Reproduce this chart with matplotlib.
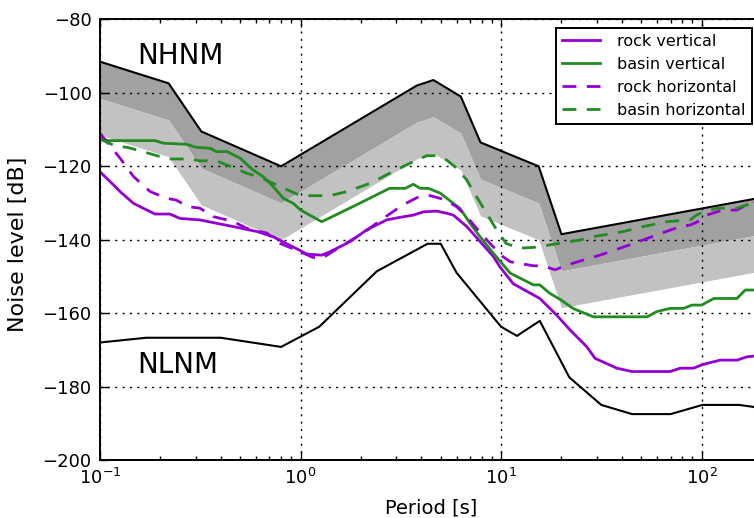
import matplotlib
matplotlib.use("Agg")
import matplotlib.pyplot as plt

# PLOT SETTINGS

plt.rcParams['font.family'] = ['DejaVu Sans']
plt.rcParams['xtick.direction'] = 'in'
plt.rcParams['ytick.direction'] = 'in'
plt.rcParams['xtick.top'] = True
plt.rcParams['ytick.right'] = True
plt.rcParams['lines.scale_dashes'] = False

# Peterson noise models (period [s], level [dB])
nhnm_period = [0.1, 0.22, 0.32, 0.8, 3.8, 4.6, 6.3, 7.9, 15.4, 20.0, 354.8]
nhnm_level = [-91.5, -97.4, -110.5, -120.0, -98.0, -96.5, -101.0, -113.5, -120.0, -138.5, -126.0]
band_dark_low = [-101.5, -107.4, -120.5, -130.0, -108.0, -106.5, -111.0, -123.5, -130.0, -148.5, -136.0]
band_light_low = [-111.5, -117.4, -130.5, -140.0, -118.0, -116.5, -121.0, -133.5, -140.0, -158.5, -146.0]

nlnm_period = [0.1, 0.17, 0.4, 0.8, 1.24, 2.4, 4.3, 5.0, 6.0, 10.0, 12.0, 15.6, 21.9, 31.6, 45.0,
               70.0, 101.0, 154.0, 328.0]
nlnm_level = [-168.0, -166.7, -166.7, -169.2, -163.7, -148.6, -141.1, -141.1, -149.0, -163.7, -166.2,
              -162.1, -177.5, -185.0, -187.5, -187.5, -185.0, -185.0, -187.5]

# station spectra
rock_v_period = [0.1, 0.119, 0.126, 0.147, 0.188, 0.223, 0.251, 0.315, 0.38, 0.46, 0.61, 0.73, 1.0,
                 1.074, 1.276, 1.4, 1.77, 2.14, 2.69, 3.13, 3.65, 4.1, 4.78, 5.36, 5.78, 6.74, 7.86,
                 9.16, 9.9, 11.5, 15.6, 18.9, 22.1, 26.7, 29.4, 37.8, 44.9, 69.7, 78.2, 91.1, 100.0,
                 108.0, 124.0, 150.0, 168.0, 200.0]
rock_v_level = [-121.5, -125.5, -126.9, -130.1, -133.0, -133.0, -134.2, -134.6, -135.5, -136.4, -137.8,
                -139.2, -143.0, -143.9, -144.2, -143.3, -140.5, -137.3, -134.6, -133.9, -133.3, -132.4,
                -132.2, -132.8, -133.3, -136.4, -140.5, -144.6, -147.5, -152.0, -156.0, -160.5, -164.6,
                -169.1, -172.3, -175.0, -175.9, -175.9, -175.0, -175.0, -174.1, -173.6, -172.8, -172.8,
                -171.9, -171.5]

basin_v_period = [0.1, 0.11, 0.188, 0.207, 0.27, 0.3, 0.355, 0.38, 0.43, 0.5, 0.58, 0.65, 0.73, 0.82,
                  0.92, 1.0, 1.276, 1.9, 2.78, 3.33, 3.65, 3.95, 4.34, 4.97, 5.78, 6.23, 7.0, 7.86, 9.16,
                  11.1, 14.5, 15.6, 17.5, 19.9, 22.8, 28.8, 53.5, 59.6, 69.7, 81.3, 89.5, 100.0, 115.0,
                  150.0, 165.0, 200.0]
basin_v_level = [-112.3, -113.0, -113.0, -113.7, -114.0, -114.8, -115.1, -116.0, -116.0, -117.8, -121.0,
                 -122.8, -125.5, -128.7, -130.1, -131.9, -135.1, -130.5, -126.0, -126.0, -124.9, -126.0,
                 -126.0, -127.3, -130.1, -131.4, -135.5, -139.2, -143.7, -149.1, -152.3, -152.3, -154.6,
                 -156.4, -158.7, -161.0, -161.0, -159.6, -158.7, -158.7, -157.8, -157.8, -156.0, -156.0,
                 -153.7, -153.7]

rock_h_period = [0.1, 0.108, 0.126, 0.147, 0.178, 0.215, 0.24, 0.275, 0.315, 0.367, 0.43, 0.48, 0.54,
                 0.68, 0.79, 1.0, 1.15, 1.276, 1.58, 2.05, 2.58, 3.24, 3.95, 4.44, 5.17, 6.0, 6.74, 7.55,
                 8.8, 10.2, 11.1, 14.5, 16.2, 18.6, 21.3, 31.5, 46.0, 59.6, 78.2, 87.7, 100.0, 106.0,
                 124.0, 150.0, 168.0, 200.0]
rock_h_level = [-111.0, -113.3, -117.8, -122.8, -126.9, -128.7, -129.2, -131.0, -131.4, -133.7, -134.6,
                -135.5, -136.9, -138.2, -141.0, -143.3, -144.8, -145.1, -141.9, -138.2, -134.2, -130.5,
                -128.1, -128.0, -129.0, -131.0, -133.7, -136.9, -141.0, -144.6, -146.0, -147.1, -147.1,
                -148.2, -146.9, -144.1, -141.0, -138.7, -136.4, -136.0, -134.6, -133.3, -132.1, -131.9,
                -130.5, -129.5]

basin_h_period = [0.1, 0.121, 0.136, 0.164, 0.2, 0.223, 0.28, 0.315, 0.38, 0.46, 0.54, 0.63, 0.79, 1.0,
                  1.4, 1.7, 2.23, 2.78, 3.24, 3.79, 4.27, 4.78, 5.36, 6.0, 6.74, 7.55, 8.47, 9.5, 10.6,
                  12.3, 14.5, 19.5, 24.6, 29.9, 40.6, 51.3, 67.0, 87.7, 94.2, 102.0, 120.0, 150.0, 168.0,
                  200.0]
basin_h_level = [-112.6, -114.6, -114.8, -116.0, -117.4, -118.0, -118.0, -118.5, -118.5, -120.3, -121.9,
                 -123.0, -125.5, -128.0, -128.0, -126.9, -124.6, -121.9, -120.1, -118.3, -117.1, -117.1,
                 -118.3, -120.5, -123.7, -128.3, -132.8, -137.3, -141.0, -142.3, -142.1, -141.0, -140.1,
                 -139.0, -137.8, -136.4, -135.1, -134.6, -133.3, -132.4, -131.4, -131.4, -130.5, -129.5]

purple = '#9400d3'
green = '#228b22'
dash = (10, 7.5)

fig = plt.figure(figsize=(7.54, 5.18), dpi=100)
ax = fig.add_axes([0.1326, 0.112, 0.878, 0.8504])

# noise model bands
ax.fill_between(nhnm_period, band_dark_low, nhnm_level, color='0.63', linewidth=0)
ax.fill_between(nhnm_period, band_light_low, band_dark_low, color='0.76', linewidth=0)
ax.plot(nhnm_period, nhnm_level, color='black', linewidth=1.5)
ax.plot(nlnm_period, nlnm_level, color='black', linewidth=1.5)

ax.plot(rock_v_period, rock_v_level, color=purple, linewidth=2, label='rock vertical')
ax.plot(basin_v_period, basin_v_level, color=green, linewidth=2, label='basin vertical')
ax.plot(rock_h_period, rock_h_level, color=purple, linewidth=2, dashes=dash, label='rock horizontal')
ax.plot(basin_h_period, basin_h_level, color=green, linewidth=2, dashes=dash, label='basin horizontal')

ax.text(0.153, -92.1, 'NHNM', fontsize=20, va='baseline', ha='left')
ax.text(0.153, -176.2, 'NLNM', fontsize=20, va='baseline', ha='left')

ax.set_xscale('log')
ax.set_xlim(0.1, 200)
ax.set_ylim(-200, -80)
ax.set_yticks(range(-200, -79, 20))
ax.grid(True, which='major', color='black', linestyle=(0, (1.5, 3.8)), linewidth=1)

ax.tick_params(which='major', length=6, width=1, labelsize=13, pad=6)
ax.tick_params(which='minor', length=3, width=1)
for spine in ax.spines.values():
    spine.set_linewidth(1.4)

ax.set_xlabel('Period [s]', fontsize=14)
ax.set_ylabel('Noise level [dB]', fontsize=16)
ax.xaxis.set_label_coords(0.5, -0.0885)
ax.yaxis.set_label_coords(-0.109, 0.49)

leg = ax.legend(loc='upper right', bbox_to_anchor=(0.9849, 0.9814), borderaxespad=0,
                fontsize=11.5, handlelength=2.39, handletextpad=1.05, fancybox=False, framealpha=1,
                labelspacing=0.5)
leg.get_frame().set_edgecolor('black')
leg.get_frame().set_linewidth(1.4)

fig.savefig('out.png', dpi=100)
